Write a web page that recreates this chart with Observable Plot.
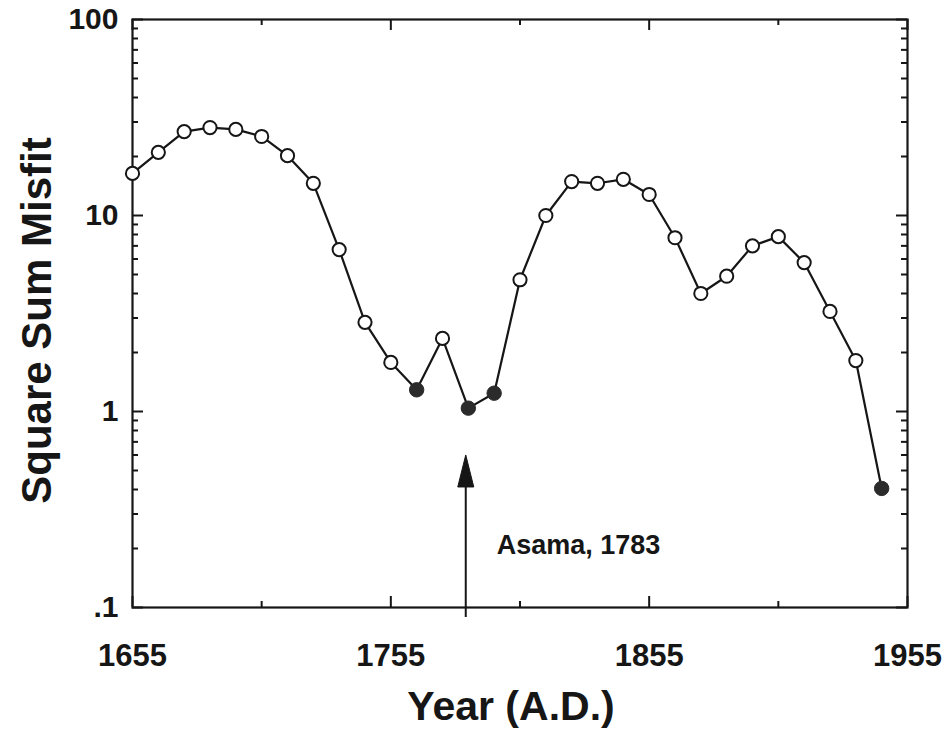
<!DOCTYPE html>
<html>
<head>
<meta charset="utf-8">
<script src="https://cdn.jsdelivr.net/npm/d3@7"></script>
<script src="https://cdn.jsdelivr.net/npm/@observablehq/plot@0.6"></script>
<style>
  html, body { margin: 0; padding: 0; background: #ffffff; }
  #chart { width: 947px; height: 736px; }
</style>
</head>
<body>
<div id="chart"></div>
<script>
// ---- data ----
const years = [1655, 1665, 1675, 1685, 1695, 1705, 1715, 1725, 1735, 1745,
               1755, 1765, 1775, 1785, 1795, 1805, 1815, 1825, 1835, 1845,
               1855, 1865, 1875, 1885, 1895, 1905, 1915, 1925, 1935, 1945];
const misfit = [16.4, 21.0, 26.8, 28.1, 27.5, 25.3, 20.2, 14.6, 6.7, 2.85,
                1.78, 1.29, 2.36, 1.04, 1.24, 4.7, 10.0, 14.9, 14.6, 15.3,
                12.8, 7.7, 4.0, 4.9, 7.0, 7.8, 5.75, 3.24, 1.82, 0.405];
const filledYears = [1765, 1785, 1795, 1945];

const xLabelTicks = [1655, 1755, 1855, 1955];
const xMinorTicks = [1705, 1805, 1905];
const yLabelTicks = [0.1, 1, 10, 100];
const yLabelText = [".1", "1", "10", "100"];
const yMinorTicks = [0.2, 0.3, 0.4, 0.5, 0.6, 0.7, 0.8, 0.9,
                     2, 3, 4, 5, 6, 7, 8, 9,
                     20, 30, 40, 50, 60, 70, 80, 90];

const annotation = [{year: 1784, tip: 0.6, base: 0.1, labelY: 0.207, label: "Asama, 1783"}];
const yTitle = "Square Sum Misfit";
const xTitle = "Year (A.D.)";

// ---- build table ----
const table = years.map((y, i) => ({year: y, misfit: misfit[i], filled: filledYears.includes(y)}));
const openPts = table.filter(d => !d.filled);
const filledPts = table.filter(d => d.filled);

const W = 947, H = 736;
const mL = 132, mR = 40, mT = 19, mB = 129;
const plotW = W - mL - mR, plotH = H - mT - mB;
const ink = "#161616";

// elongated filled arrowhead, tip at the anchor point
const arrowHead = {
  draw(ctx) {
    ctx.moveTo(0, 0);
    ctx.lineTo(8, 32);
    ctx.lineTo(-8, 32);
    ctx.closePath();
  }
};

const fmtY = d => yLabelText[yLabelTicks.indexOf(d)];

const chart = Plot.plot({
  width: W,
  height: H,
  marginLeft: mL, marginRight: mR, marginTop: mT, marginBottom: mB,
  style: {fontFamily: "'Liberation Sans', Arial, Helvetica, sans-serif", background: "#ffffff", color: ink},
  x: {domain: [1655, 1955], nice: false},
  y: {type: "log", domain: [0.1, 100], nice: false},
  marks: [
    // inward ticks: bottom / top
    Plot.ruleX(xLabelTicks, {x: d => d, insetTop: plotH - 11, stroke: ink, strokeWidth: 2}),
    Plot.ruleX(xLabelTicks, {x: d => d, insetBottom: plotH - 11, stroke: ink, strokeWidth: 2}),
    Plot.ruleX(xMinorTicks, {x: d => d, insetTop: plotH - 6, stroke: ink, strokeWidth: 2}),
    Plot.ruleX(xMinorTicks, {x: d => d, insetBottom: plotH - 6, stroke: ink, strokeWidth: 2}),
    // inward ticks: left / right
    Plot.ruleY(yLabelTicks, {y: d => d, insetRight: plotW - 11, stroke: ink, strokeWidth: 2}),
    Plot.ruleY(yLabelTicks, {y: d => d, insetLeft: plotW - 11, stroke: ink, strokeWidth: 2}),
    Plot.ruleY(yMinorTicks, {y: d => d, insetRight: plotW - 6, stroke: ink, strokeWidth: 2}),
    Plot.ruleY(yMinorTicks, {y: d => d, insetLeft: plotW - 6, stroke: ink, strokeWidth: 2}),
    Plot.frame({stroke: ink, strokeWidth: 2.2}),
    // axes labels
    Plot.axisX({anchor: "bottom", ticks: xLabelTicks, tickFormat: d => String(d), tickSize: 0, tickPadding: 36,
                fontSize: 31, fontWeight: "bold", label: null, fill: ink}),
    Plot.axisY({anchor: "left", ticks: yLabelTicks, tickFormat: fmtY, tickSize: 0, tickPadding: 14,
                fontSize: 30, fontWeight: "bold", label: null, fill: ink}),
    // titles
    Plot.text([yTitle], {frameAnchor: "left", textAnchor: "middle", lineAnchor: "middle", rotate: -90,
                         dx: -95, dy: 7, fontSize: 42, fontWeight: "bold", fill: ink}),
    Plot.text([xTitle], {frameAnchor: "bottom", textAnchor: "middle", lineAnchor: "middle",
                         dx: -9, dy: 99, fontSize: 41, fontWeight: "bold", fill: ink}),
    // annotation arrow
    Plot.ruleX(annotation, {x: "year", y1: "base", y2: "tip", dy: 10, stroke: ink, strokeWidth: 2}),
    Plot.dot(annotation, {x: "year", y: "tip", symbol: arrowHead, r: 10, fill: ink, stroke: ink, strokeWidth: 1}),
    Plot.text(annotation, {x: "year", y: "labelY", text: "label", dx: 31, textAnchor: "start",
                           fontSize: 27, fontWeight: "bold", fill: ink}),
    // data
    Plot.line(table, {x: "year", y: "misfit", stroke: ink, strokeWidth: 2.2}),
    Plot.dot(openPts, {x: "year", y: "misfit", r: 6.6, fill: "#ffffff", stroke: ink, strokeWidth: 2}),
    Plot.dot(filledPts, {x: "year", y: "misfit", r: 7.2, fill: "#2b2b2b", stroke: "#2b2b2b", strokeWidth: 1})
  ]
});

document.getElementById("chart").appendChild(chart);
</script>
</body>
</html>
